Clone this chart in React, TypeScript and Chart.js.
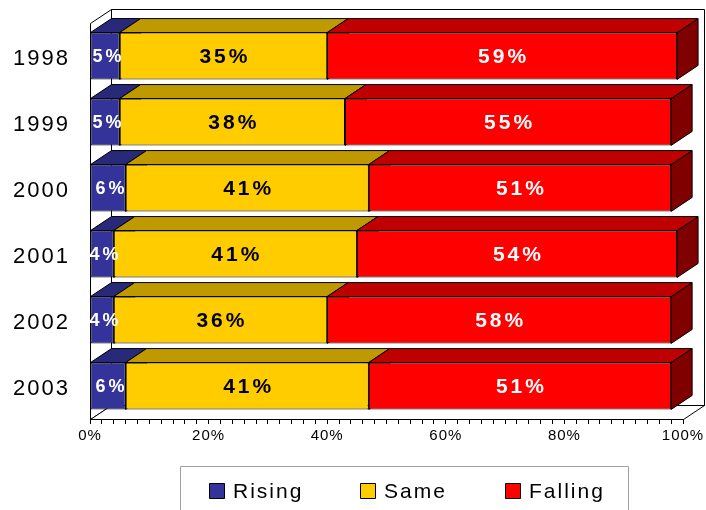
import React, { useEffect, useRef } from 'react';
import { Chart, registerables } from 'chart.js';

Chart.register(...registerables);

const years = ['1998', '1999', '2000', '2001', '2002', '2003'];
const risingValues = [5, 5, 6, 4, 4, 6];
const sameValues = [35, 38, 41, 41, 36, 41];
const fallingValues = [59, 55, 51, 54, 58, 51];
const seriesNames = ['Rising', 'Same', 'Falling'];
const frontColors = ['#333399', '#FFCC00', '#FF0000'];
const topColors = ['#29297A', '#BF9900', '#BF0000'];
const sideColors = ['#1A1A4D', '#806600', '#800000'];
const labelColors = ['#FFFFFF', '#000000', '#FFFFFF'];
const xTickStep = 2;
const xLabelStep = 20;

const DX = 21;
const DY = -14;
const FONT = "'Liberation Sans', Arial, sans-serif";

function poly(ctx: CanvasRenderingContext2D, pts: number[][]) {
  ctx.beginPath();
  pts.forEach(([x, y], i) => (i ? ctx.lineTo(x, y) : ctx.moveTo(x, y)));
  ctx.closePath();
  ctx.fill();
  ctx.stroke();
}

const threeD = {
  id: 'threeD',
  beforeDraw(chart: any) {
    const ctx: any = chart.ctx;
    const { left: L, right: R, top: T, bottom: B } = chart.chartArea;
    const s = (v: number) => Math.round(v) + 0.5;
    ctx.save();
    ctx.fillStyle = '#FFFFFF';
    ctx.strokeStyle = '#000000';
    ctx.lineWidth = 1;
    // back wall
    poly(ctx, [[s(L + DX), s(T + DY)], [s(R + DX), s(T + DY)], [s(R + DX), s(B + DY)], [s(L + DX), s(B + DY)]]);
    // left wall
    poly(ctx, [[s(L), s(T)], [s(L + DX), s(T + DY)], [s(L + DX), s(B + DY)], [s(L), s(B)]]);
    // floor
    poly(ctx, [[s(L), s(B)], [s(R), s(B)], [s(R + DX), s(B + DY)], [s(L + DX), s(B + DY)]]);
    ctx.restore();
    ctx.letterSpacing = '1px';
  },
  beforeDatasetsDraw(chart: any) {
    const ctx: any = chart.ctx;
    ctx.save();
    ctx.lineWidth = 1;
    ctx.strokeStyle = '#000000';
    const n = chart.data.labels.length;
    for (let j = 0; j < n; j++) {
      for (let i = 0; i < chart.data.datasets.length; i++) {
        const bar = chart.getDatasetMeta(i).data[j];
        const { x, y, base, height } = bar.getProps(['x', 'y', 'base', 'height'], true);
        const x0 = Math.min(base, x);
        const x1 = Math.max(base, x);
        const top = y - height / 2;
        const bot = y + height / 2;
        ctx.fillStyle = sideColors[i];
        poly(ctx, [[x1, top], [x1 + DX, top + DY], [x1 + DX, bot + DY], [x1, bot]]);
        ctx.fillStyle = topColors[i];
        poly(ctx, [[x0, top], [x1, top], [x1 + DX, top + DY], [x0 + DX, top + DY]]);
      }
    }
    ctx.restore();
  },
  afterDatasetsDraw(chart: any) {
    const ctx: any = chart.ctx;
    ctx.save();
    ctx.textAlign = 'center';
    ctx.textBaseline = 'middle';
    chart.data.datasets.forEach((ds: any, i: number) => {
      const meta = chart.getDatasetMeta(i);
      const sp = 3;
      ctx.letterSpacing = sp + 'px';
      ctx.font = (i === 0 ? 'bold 18px ' : 'bold 21px ') + FONT;
      ctx.fillStyle = labelColors[i];
      meta.data.forEach((bar: any, j: number) => {
        const { x, y, base } = bar.getProps(['x', 'y', 'base'], true);
        const cx = (x + base) / 2 + (i === 0 ? 2 : 0);
        ctx.fillText(ds.data[j] + '%', cx + sp / 2, y + 1);
      });
    });
    ctx.restore();
  },
  afterDraw(chart: any) {
    const ctx: any = chart.ctx;
    ctx.save();
    // category labels
    const yScale = chart.scales.y;
    ctx.font = '22px ' + FONT;
    ctx.letterSpacing = '2px';
    ctx.fillStyle = '#000000';
    ctx.textAlign = 'right';
    ctx.textBaseline = 'middle';
    chart.data.labels.forEach((lab: string, j: number) => {
      ctx.fillText(lab, 70, yScale.getPixelForValue(j) + 3);
    });
    // legend
    ctx.letterSpacing = '0px';
    ctx.fillStyle = '#FFFFFF';
    ctx.strokeStyle = '#A0A0A0';
    ctx.lineWidth = 1;
    ctx.beginPath();
    ctx.rect(180.5, 466.5, 448, 60);
    ctx.fill();
    ctx.stroke();
    const itemX = [209, 360, 505];
    ctx.font = '21px ' + FONT;
    ctx.letterSpacing = '2px';
    ctx.textAlign = 'left';
    ctx.textBaseline = 'alphabetic';
    chart.data.datasets.forEach((ds: any, i: number) => {
      ctx.fillStyle = frontColors[i];
      ctx.strokeStyle = '#000000';
      ctx.beginPath();
      ctx.rect(itemX[i] + 0.5, 483.5, 15, 15);
      ctx.fill();
      ctx.stroke();
      ctx.fillStyle = '#000000';
      ctx.fillText(ds.label, itemX[i] + 24, 498);
    });
    ctx.restore();
  },
};

export default function App() {
  const ref = useRef<HTMLCanvasElement>(null);
  useEffect(() => {
    document.body.style.margin = '0';
    const canvas = ref.current!;
    const chart = new Chart(canvas, {
      type: 'bar',
      data: {
        labels: years,
        datasets: [risingValues, sameValues, fallingValues].map((vals, i) => ({
          label: seriesNames[i],
          data: vals,
          backgroundColor: frontColors[i],
          borderColor: '#000000',
          borderWidth: 1,
          borderSkipped: false,
          barPercentage: 0.71,
          categoryPercentage: 1,
        })),
      },
      options: {
        indexAxis: 'y',
        responsive: false,
        animation: false,
        devicePixelRatio: 1,
        layout: { padding: { top: 23, right: 23, left: 0, bottom: 0 } },
        plugins: { legend: { display: false }, tooltip: { enabled: false } },
        scales: {
          x: {
            stacked: true,
            min: 0,
            max: 100,
            afterFit: (scale: any) => {
              scale.height = 91;
            },
            ticks: {
              stepSize: xTickStep,
              autoSkip: false,
              maxRotation: 0,
              color: '#000000',
              padding: 3,
              font: { size: 15, family: FONT },
              callback: (v: any) => (Number(v) % xLabelStep === 0 ? v + '%' : ''),
            },
            grid: { drawOnChartArea: false, drawTicks: true, tickLength: 5, color: '#000000' },
            border: { display: true, color: '#000000' },
          },
          y: {
            stacked: true,
            afterFit: (scale: any) => {
              scale.width = 90;
            },
            ticks: { display: false },
            grid: { display: false },
            border: { display: false },
          },
        },
      } as any,
      plugins: [threeD],
    });
    return () => chart.destroy();
  }, []);
  return (
    <div style={{ position: 'fixed', left: 0, top: 0, width: 706, height: 510, background: '#FFFFFF' }}>
      <canvas ref={ref} width={706} height={510} />
    </div>
  );
}
